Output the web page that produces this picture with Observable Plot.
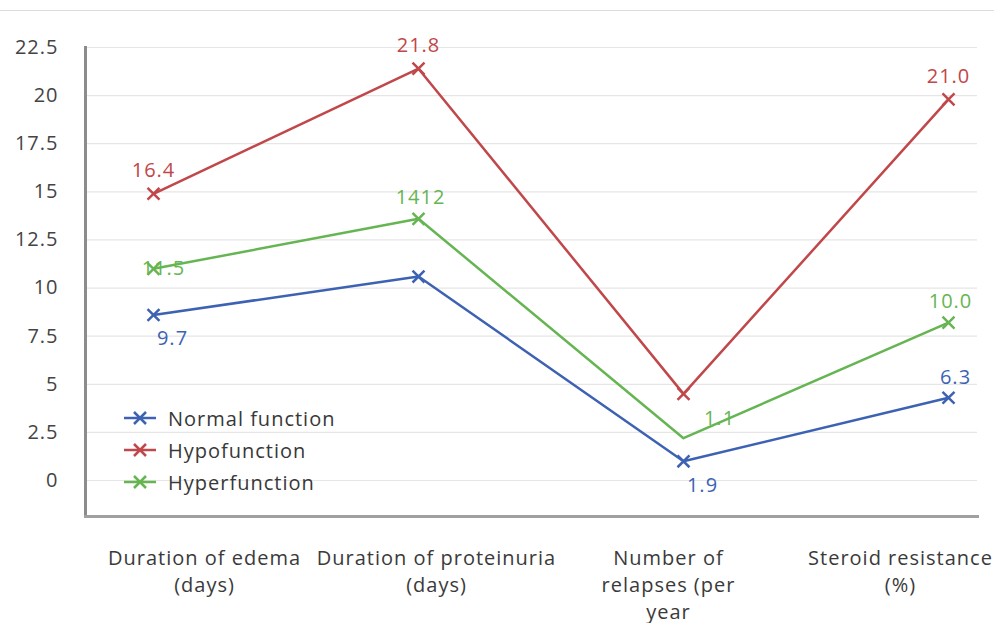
<!DOCTYPE html>
<html>
<head>
<meta charset="utf-8">
<script src="https://cdn.jsdelivr.net/npm/d3@7"></script>
<script src="https://cdn.jsdelivr.net/npm/@observablehq/plot@0.6"></script>
<style>
  html, body { margin: 0; padding: 0; background: #fff; }
  #wrap { position: relative; width: 994px; height: 623px; overflow: hidden; font-family: "Open Sans", sans-serif; }
  #wrap > svg, #wrap > .layer { position: absolute; left: 0; top: 0; }
  #wrap svg text { letter-spacing: 1px; }
  #topline { position: absolute; left: 0; top: 10px; width: 994px; height: 1px; background: #dcdcdc; }
  #legend { position: absolute; left: 122px; top: 402px; font-size: 20px; letter-spacing: 1px; color: #383838; }
  #legend .row { display: flex; align-items: center; height: 32px; }
  #legend svg { margin-right: 10px; }
</style>
</head>
<body>
<div id="wrap"><div id="topline"></div></div>
<script>
const categories = ["Duration of edema (days)", "Duration of proteinuria (days)", "Number of relapses (per year", "Steroid resistance (%)"];
const axisLabels = ["Duration of edema\n(days)", "Duration of proteinuria\n(days)", "Number of\nrelapses (per\nyear", "Steroid resistance\n(%)"];
const seriesNames = ["Normal function", "Hypofunction", "Hyperfunction"];
const seriesColors = ["#3d62b3", "#c0474a", "#66b553"];
const normalValues = [8.6, 10.6, 1.0, 4.3];
const hypoValues = [14.9, 21.4, 4.5, 19.8];
const hyperValues = [11.0, 13.6, 2.2, 8.2];
const normalLabels = ["9.7", "", "1.9", "6.3"];
const hypoLabels = ["16.4", "21.8", "", "21.0"];
const hyperLabels = ["11.5", "1412", "1.1", "10.0"];
const yTicks = [0, 2.5, 5, 7.5, 10, 12.5, 15, 17.5, 20, 22.5];

const rows = (vals, labs) => categories.map((c, i) => ({cat: c, i, v: vals[i], lab: labs[i]}));
const normal = rows(normalValues, normalLabels);
const hypo = rows(hypoValues, hypoLabels);
const hyper = rows(hyperValues, hyperLabels);
const [cN, cHo, cHe] = seriesColors;

const font = {fontFamily: "Open Sans", fontSize: 20};

const main = Plot.plot({
  width: 994, height: 623,
  marginTop: 47, marginBottom: 107, marginLeft: 85, marginRight: 17,
  style: {fontFamily: "Open Sans", background: "transparent"},
  x: {type: "point", domain: categories, range: [153, 948], padding: 0, axis: null},
  y: {domain: [-1.87, 22.5], axis: null},
  marks: [
    Plot.gridY(yTicks, {stroke: "#e6e6e6", strokeOpacity: 1, strokeWidth: 1.2}),
    Plot.axisY(yTicks, {tickSize: 0, tickPadding: 27, fontSize: 20, fill: "#444", fontFamily: "Open Sans", label: null, tickFormat: d => String(d)}),
    Plot.frame({anchor: "left", stroke: "#8c8c8c", strokeWidth: 3}),
    Plot.frame({anchor: "bottom", stroke: "#a0a0a0", strokeWidth: 3}),
    Plot.line(normal, {x: "cat", y: "v", stroke: cN, strokeWidth: 2.5}),
    Plot.line(hyper, {x: "cat", y: "v", stroke: cHe, strokeWidth: 2.5}),
    Plot.line(hypo, {x: "cat", y: "v", stroke: cHo, strokeWidth: 2.5}),
    Plot.dot(normal, {x: "cat", y: "v", symbol: "times", r: 5.5, stroke: cN, strokeWidth: 2.5}),
    Plot.dot(hyper, {filter: d => d.i !== 2, x: "cat", y: "v", symbol: "times", r: 5.5, stroke: cHe, strokeWidth: 2.5}),
    Plot.dot(hypo, {x: "cat", y: "v", symbol: "times", r: 5.5, stroke: cHo, strokeWidth: 2.5}),
    // data labels
    Plot.text(hypo, {filter: d => d.lab, x: "cat", y: "v", text: "lab", dy: -23, fill: cHo, ...font}),
    Plot.text(hyper, {filter: d => d.i === 0, x: "cat", y: "v", text: "lab", dx: 10, dy: 0, fill: cHe, ...font}),
    Plot.text(hyper, {filter: d => d.i === 1 || d.i === 3, x: "cat", y: "v", text: "lab", dx: 2, dy: -21, fill: cHe, ...font}),
    Plot.text(hyper, {filter: d => d.i === 2, x: "cat", y: "v", text: "lab", dx: 36, dy: -20, fill: cHe, ...font}),
    Plot.text(normal, {filter: d => d.i === 0 || d.i === 2, x: "cat", y: "v", text: "lab", dx: 19, dy: 24, fill: cN, ...font}),
    Plot.text(normal, {filter: d => d.i === 3, x: "cat", y: "v", text: "lab", dx: 7, dy: -20, fill: cN, ...font})
  ]
});

const labels = Plot.plot({
  width: 994, height: 623,
  marginTop: 47, marginBottom: 107, marginLeft: 85, marginRight: 17,
  style: {fontFamily: "Open Sans", background: "transparent"},
  x: {type: "point", domain: categories, range: [204, 900], padding: 0, axis: null},
  y: {domain: [-1.87, 22.5], axis: null},
  marks: [
    Plot.axisX({tickSize: 0, tickPadding: 29, fontSize: 20, lineHeight: 1.36, fill: "#3a3a3a", label: null,
      fontFamily: "Open Sans", tickFormat: d => axisLabels[categories.indexOf(d)]})
  ]
});

const wrap = document.getElementById("wrap");
main.classList.add("layer");
labels.classList.add("layer");
wrap.appendChild(main);
wrap.appendChild(labels);

// legend
const legend = document.createElement("div");
legend.id = "legend";
seriesNames.forEach((name, k) => {
  const row = document.createElement("div");
  row.className = "row";
  const c = seriesColors[k];
  row.innerHTML = `<svg width="36" height="20" viewBox="0 0 36 20"><line x1="2" y1="10" x2="34" y2="10" stroke="${c}" stroke-width="2.5"/><path d="M12,4L24,16M24,4L12,16" stroke="${c}" stroke-width="2.5"/></svg><span>${name}</span>`;
  legend.appendChild(row);
});
wrap.appendChild(legend);
</script>
</body>
</html>
